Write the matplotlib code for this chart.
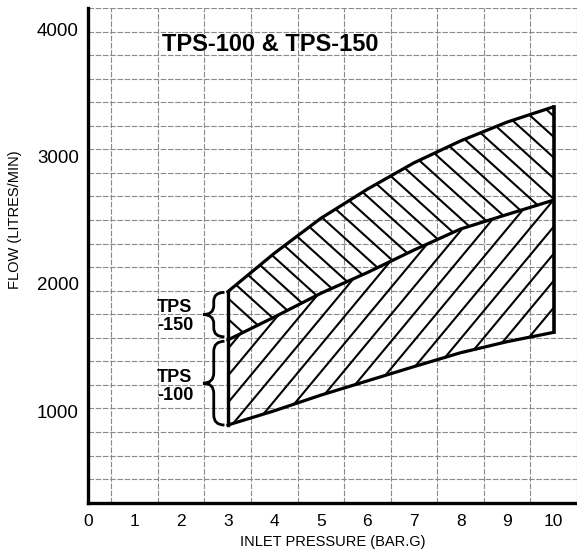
import numpy as np
import matplotlib
matplotlib.use('Agg')
import matplotlib.pyplot as plt
from matplotlib.patches import Polygon, PathPatch
from matplotlib.path import Path
from matplotlib.collections import LineCollection

plt.rcParams['font.family'] = ['Liberation Sans', 'DejaVu Sans']

# data
pressure = [3, 4, 5, 6, 7, 8, 9, 10]
flow_100_min = [890, 1002, 1125, 1237, 1349, 1458, 1545, 1618]
flow_100_max = [1558, 1738, 1925, 2088, 2265, 2430, 2544, 2657]   # also TPS-150 min
flow_150_max = [1937, 2239, 2514, 2743, 2950, 3122, 3270, 3390]
x_ticks = [0, 1, 2, 3, 4, 5, 6, 7, 8, 9, 10]
y_ticks = [1000, 2000, 3000, 4000]

W, H = 577, 555
fig = plt.figure(figsize=(W / 100, H / 100), dpi=100)
ax_l, ax_b, ax_w, ax_h = 88, 52.3, 489, 494.7
ax = fig.add_axes([ax_l / W, ax_b / H, ax_w / W, ax_h / H])
xlim = (0, 10.47)
ylim = (280, 4166)
ax.set_xlim(xlim)
ax.set_ylim(ylim)

# grid (not tied to the tick labels, like the original paper grid)
ax.set_xticks(np.arange(0.5, 10.6, 0.5), minor=True)
ax.set_yticks(np.linspace(ylim[0], ylim[1], 22)[1:], minor=True)
ax.grid(which='minor', color='#8a8a8a', lw=0.8, ls=(0, (5, 1.5)))
ax.tick_params(which='minor', length=0)
ax.set_xticks(x_ticks)
ax.set_yticks(y_ticks)
ax.tick_params(which='major', length=0)
ax.tick_params(axis='x', labelsize=12.5, pad=8)
ax.tick_params(axis='y', labelsize=13.5, pad=6.5)
ax.set_axisbelow(True)

for s in ['top', 'right']:
    ax.spines[s].set_visible(False)
for s in ['left', 'bottom']:
    ax.spines[s].set_linewidth(2.4)

ax.set_xlabel('INLET PRESSURE (BAR.G)', fontsize=10.5)
ax.xaxis.set_label_coords(0.5, -0.079)
ax.xaxis.label.set_va('center')
ax.set_ylabel('FLOW (LITRES/MIN)', fontsize=10.5)
ax.yaxis.set_label_coords(-0.149, 0.573)
ax.yaxis.label.set_va('center')

# hatching, drawn as clipped lines
sx = (xlim[1] - xlim[0]) / ax_w
sy = (ylim[1] - ylim[0]) / ax_h


def hatch(lo, hi, slope_px, step_px, through):
    verts = list(zip(pressure, lo)) + list(zip(pressure[::-1], hi[::-1]))
    poly = Polygon(verts, closed=True, fill=False, edgecolor='none')
    ax.add_patch(poly)
    slope = slope_px * sy / sx
    step = step_px * sx
    c0 = through[0] - (through[1] - 1000) / slope
    segs = []
    for c in c0 + step * np.arange(-60, 60):
        segs.append([(0, 1000 + slope * (0 - c)), (11, 1000 + slope * (11 - c))])
    lc = LineCollection(segs, colors='black', linewidths=1.5, zorder=3)
    ax.add_collection(lc)
    lc.set_clip_path(poly)


hatch(flow_100_min, flow_100_max, 1.2, 22.5, (3.75, 969))
hatch(flow_100_max, flow_150_max, -0.9, 23, (9.107, 3286))

# outlines
for ys in [flow_100_min, flow_100_max, flow_150_max]:
    ax.plot(pressure, ys, color='black', lw=2.3, zorder=4, solid_capstyle='round')
ax.plot([pressure[0]] * 2, [flow_100_min[0], flow_150_max[0]], color='black', lw=2.4, zorder=4)
ax.plot([pressure[-1]] * 2, [flow_100_min[-1], flow_150_max[-1]], color='black', lw=2.6, zorder=4)


def brace(x_tip, x_end, y_top, y_bot, r):
    xs = (x_tip + x_end) / 2
    ym = (y_top + y_bot) / 2
    verts = [(x_end, y_top), (xs, y_top), (xs, y_top - r),
             (xs, ym + r), (xs, ym), (x_tip, ym),
             (xs, ym), (xs, ym - r),
             (xs, y_bot + r), (xs, y_bot), (x_end, y_bot)]
    codes = [Path.MOVETO, Path.CURVE3, Path.CURVE3,
             Path.LINETO, Path.CURVE3, Path.CURVE3,
             Path.CURVE3, Path.CURVE3,
             Path.LINETO, Path.CURVE3, Path.CURVE3]
    ax.add_patch(PathPatch(Path(verts, codes), fill=False, lw=2.0, zorder=4))


brace(2.47, 2.93, flow_150_max[0] - 5, flow_100_max[0] + 25, 70)
brace(2.47, 2.93, flow_100_max[0] - 10, flow_100_min[0], 80)

ax.text(1.48, 1745, 'TPS\n-150', fontsize=13, fontweight='bold', ha='left', va='center',
        linespacing=1.05, zorder=5)
ax.text(1.48, 1195, 'TPS\n-100', fontsize=13, fontweight='bold', ha='left', va='center',
        linespacing=1.05, zorder=5)
ax.text(1.58, 3883, 'TPS-100 & TPS-150', fontsize=17, fontweight='bold', ha='left',
        va='center', zorder=5)

fig.savefig('out.png', dpi=100)
